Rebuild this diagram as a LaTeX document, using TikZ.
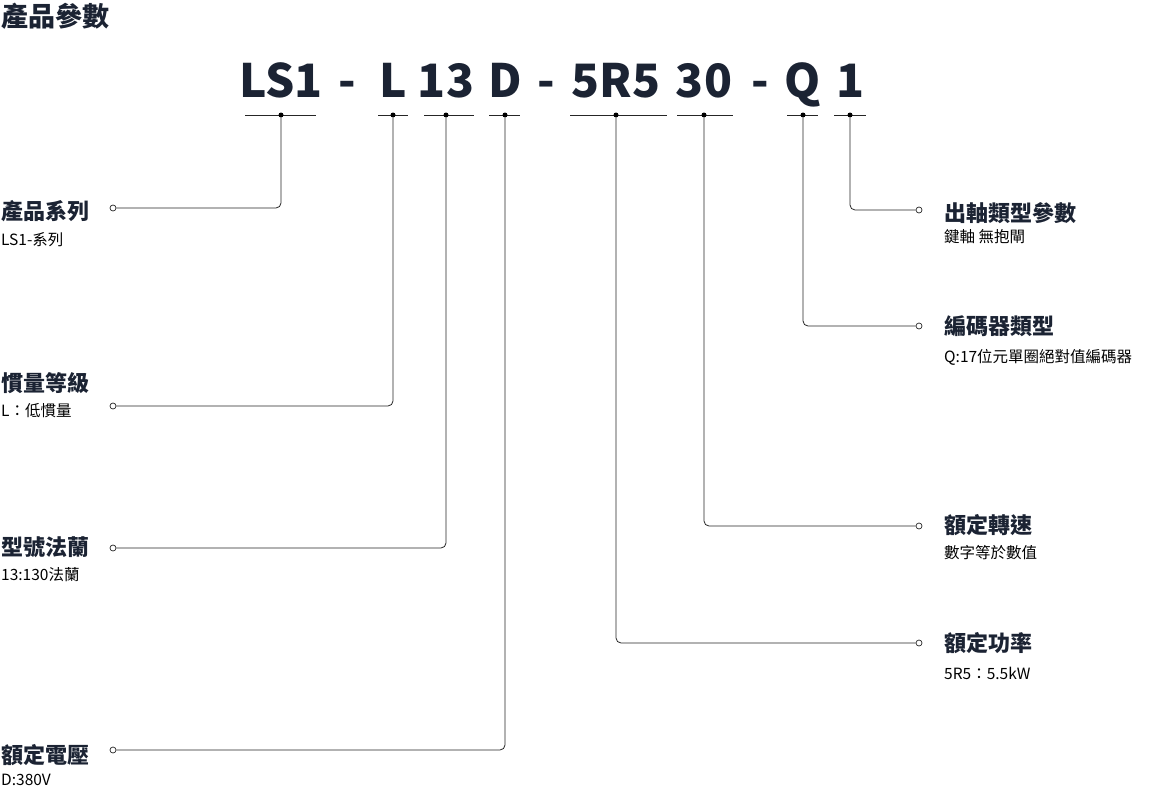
\documentclass[tikz,border=0pt]{standalone}
\usepackage{fontspec}
\setmainfont{Noto Sans CJK TC}
\definecolor{navy}{HTML}{1B2333}
\begin{document}
\begin{tikzpicture}[x=1pt,y=-1pt,
  ln/.style={draw=black!85,line width=0.8pt},
  dot/.style={circle,fill=black,inner sep=0,minimum size=5pt},
  oc/.style={circle,draw=black!85,fill=white,line width=0.7pt,inner sep=0,minimum size=6pt},
  code/.style={font=\fontsize{46}{46}\selectfont\bfseries,text=navy},
  hd/.style={anchor=base west,font=\fontsize{22}{22}\selectfont\bfseries,text=navy,inner sep=0},
  sb/.style={anchor=base west,font=\fontsize{15.5}{16}\selectfont,text=black,inner sep=0}]
\useasboundingbox (0,0) rectangle (1162,787);
\node[anchor=base west,inner sep=0,font=\fontsize{27}{27}\selectfont\bfseries,text=navy] (title) at (1,27) {產品參數};
\foreach \n/\x/\t in {a/281/LS1,m1/347/-,b/393/L,c/446/13,d/505/D,m2/546/-,e/616/5R5,f/704/30,m3/760/-,g/803/Q,h/850/1}
  \node[code,anchor=base,inner sep=0] (t\n) at (\x,97) {\t};
\foreach \n/\a/\b/\x in {a/245/316/281,b/378/408/393,c/424/474/446,d/489/520/505,e/570/667/616,f/677/733/704,g/787/818/803,h/834/866/850}{
  \draw[ln] (\a,115) -- (\b,115);
  \node[dot] (d\n) at (\x,115) {};}
% left
\foreach \n/\y/\k in {a/208/1,b/406/2,c/548/3,d/750/4}{
  \node[oc] (c\n) at (113,\y) {};
  \draw[ln,rounded corners=5pt] (d\n) |- (c\n);}
\node[hd] (ha) at (1,219) {產品系列};
\node[sb] (sa) at (1,245) {LS1-系列};
\node[hd] (hb) at (1,391) {慣量等級};
\node[sb] (sb) at (1,416) {L：低慣量};
\node[hd] (hc) at (1,555) {型號法蘭};
\node[sb] (sc) at (1,580) {13:130法蘭};
\node[hd] (hd) at (1,763) {額定電壓};
\node[sb] (sd) at (1,785) {D:380V};
% right
\foreach \n/\y in {h/210,g/326,f/526,e/643}{
  \node[oc] (c\n) at (919,\y) {};
  \draw[ln,rounded corners=5pt] (d\n) |- (c\n);}
\node[hd] (hh) at (944,221) {出軸類型參數};
\node[sb] (sh) at (944,242) {鍵軸 無抱閘};
\node[hd] (hg) at (944,334) {編碼器類型};
\node[sb] (sg) at (944,362) {Q:17位元單圈絕對值編碼器};
\node[hd] (hf) at (944,533) {額定轉速};
\node[sb] (sf) at (944,558) {數字等於數值};
\node[hd] (he) at (944,651) {額定功率};
\node[sb] (se) at (944,679) {5R5：5.5kW};
\end{tikzpicture}
\end{document}
